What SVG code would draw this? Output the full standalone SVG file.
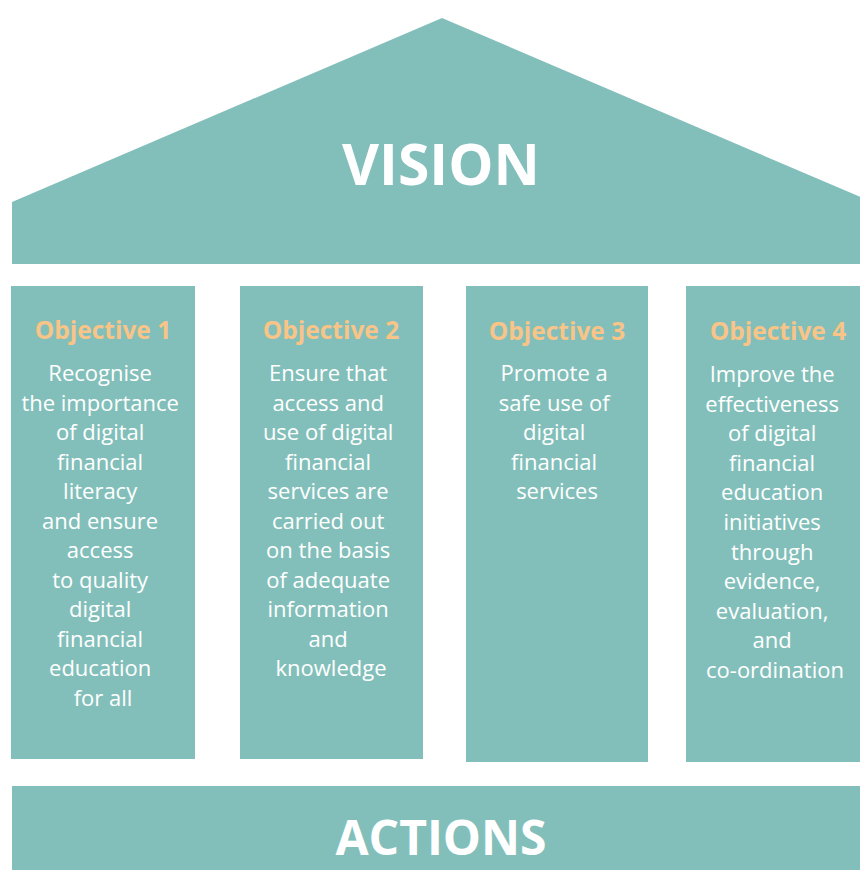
<svg xmlns="http://www.w3.org/2000/svg" width="860" height="870" viewBox="0 0 860 870">
<style>
.blk{fill:#83BFBA}
.big{font-family:"Open Sans","Liberation Sans",sans-serif;font-weight:700;fill:#ffffff;text-anchor:middle}
.ttl{font-family:"Open Sans","Liberation Sans",sans-serif;font-weight:700;font-size:24.5px;fill:#F8C487;text-anchor:middle}
.txt{font-family:"Open Sans","Liberation Sans",sans-serif;font-size:22px;fill:#ffffff;text-anchor:middle}
</style>
<rect width="860" height="870" fill="#ffffff"/>
<g id="vision">
<polygon class="blk" points="12,202 442,18 872,202 872,264 12,264"/>
<text class="big" x="441" y="185" font-size="57">VISION</text>
</g>
<g id="objective1">
<rect class="blk" x="11" y="286" width="184" height="473"/>
<text class="ttl" x="103" y="339">Objective 1</text>
<text class="txt">
<tspan x="103" y="381">Recognise</tspan>
<tspan x="103" y="410.5">the importance</tspan>
<tspan x="103" y="440">of digital</tspan>
<tspan x="103" y="469.5">financial</tspan>
<tspan x="103" y="499">literacy</tspan>
<tspan x="103" y="528.5">and ensure</tspan>
<tspan x="103" y="558">access</tspan>
<tspan x="103" y="587.5">to quality</tspan>
<tspan x="103" y="617">digital</tspan>
<tspan x="103" y="646.5">financial</tspan>
<tspan x="103" y="676">education</tspan>
<tspan x="103" y="705.5">for all</tspan>
</text>
</g>
<g id="objective2">
<rect class="blk" x="240" y="286" width="183" height="473"/>
<text class="ttl" x="331" y="339">Objective 2</text>
<text class="txt">
<tspan x="331" y="381">Ensure that</tspan>
<tspan x="331" y="410.5">access and</tspan>
<tspan x="331" y="440">use of digital</tspan>
<tspan x="331" y="469.5">financial</tspan>
<tspan x="331" y="499">services are</tspan>
<tspan x="331" y="528.5">carried out</tspan>
<tspan x="331" y="558">on the basis</tspan>
<tspan x="331" y="587.5">of adequate</tspan>
<tspan x="331" y="617">information</tspan>
<tspan x="331" y="646.5">and</tspan>
<tspan x="331" y="676">knowledge</tspan>
</text>
</g>
<g id="objective3">
<rect class="blk" x="466" y="286" width="182" height="476"/>
<text class="ttl" x="557" y="340">Objective 3</text>
<text class="txt">
<tspan x="557" y="381">Promote a</tspan>
<tspan x="557" y="410.5">safe use of</tspan>
<tspan x="557" y="440">digital</tspan>
<tspan x="557" y="469.5">financial</tspan>
<tspan x="557" y="499">services</tspan>
</text>
</g>
<g id="objective4">
<rect class="blk" x="686" y="286" width="180" height="476"/>
<text class="ttl" x="778" y="340">Objective 4</text>
<text class="txt">
<tspan x="775" y="382">Improve the</tspan>
<tspan x="775" y="411.6">effectiveness</tspan>
<tspan x="775" y="441.2">of digital</tspan>
<tspan x="775" y="470.8">financial</tspan>
<tspan x="775" y="500.4">education</tspan>
<tspan x="775" y="530">initiatives</tspan>
<tspan x="775" y="559.6">through</tspan>
<tspan x="775" y="589.2">evidence,</tspan>
<tspan x="775" y="618.8">evaluation,</tspan>
<tspan x="775" y="648.4">and</tspan>
<tspan x="775" y="678">co-ordination</tspan>
</text>
</g>
<g id="actions">
<rect class="blk" x="12" y="786" width="860" height="90"/>
<text class="big" x="441" y="855" font-size="48">ACTIONS</text>
</g>
<g id="connectors"></g>
</svg>
